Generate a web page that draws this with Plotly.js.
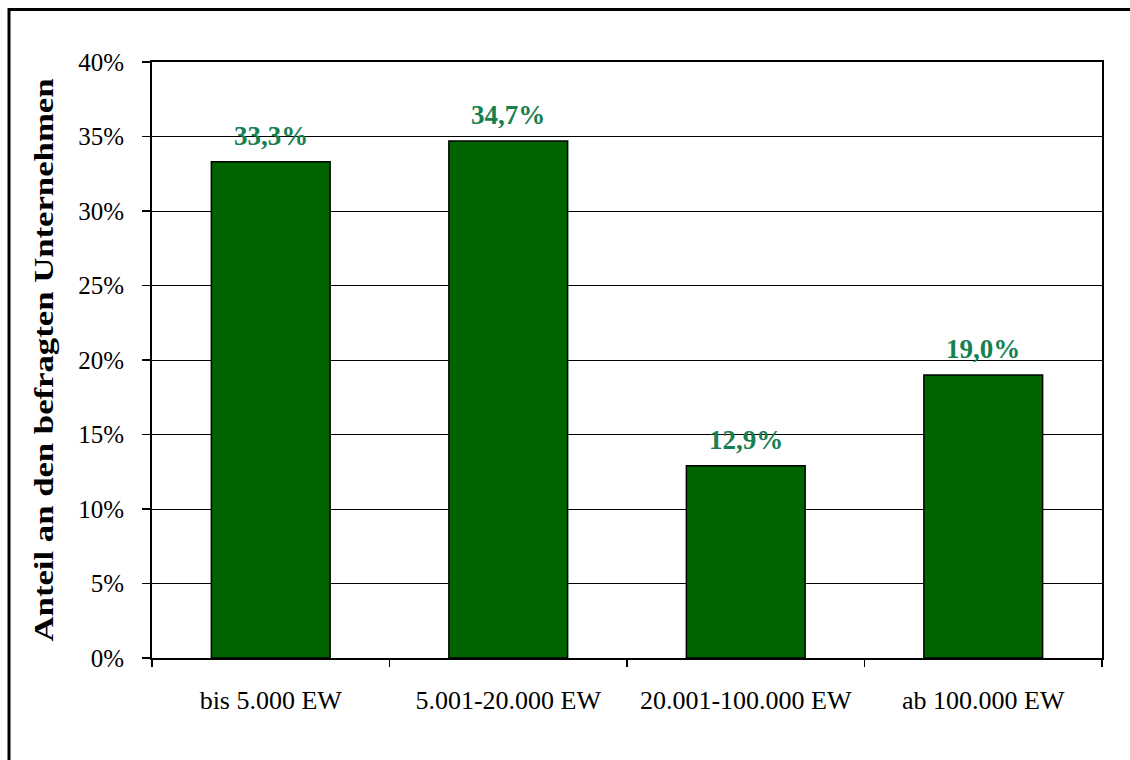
<!DOCTYPE html>
<html>
<head>
<meta charset="utf-8">
<script src="https://cdn.plot.ly/plotly-3.0.1.min.js"></script>
<style>
html,body{margin:0;padding:0;background:#fff;}
#chart{width:1130px;height:760px;}
</style>
</head>
<body>
<div id="chart"></div>
<script>
var categories = ["bis 5.000 EW", "5.001-20.000 EW", "20.001-100.000 EW", "ab 100.000 EW"];
var values = [33.3, 34.7, 12.9, 19.0];
var valueLabels = ["33,3%", "34,7%", "12,9%", "19,0%"];
var yTickVals = [0, 5, 10, 15, 20, 25, 30, 35, 40];
var yTickText = ["0%", "5%", "10%", "15%", "20%", "25%", "30%", "35%", "40%"];

var serif = "'Times New Roman', 'Liberation Serif', serif";

var trace = {
  type: "bar",
  x: categories,
  y: values,
  marker: {color: "#006400", line: {color: "#000", width: 1.5}},
  hoverinfo: "none"
};

var annotations = categories.map(function(c, i) {
  return {
    x: c, y: values[i], xref: "x", yref: "y",
    text: valueLabels[i],
    showarrow: false, yanchor: "bottom", yshift: 9,
    font: {family: serif, size: 27, weight: "bold", color: "#178050"}
  };
});

var layout = {
  width: 1130, height: 760,
  margin: {l: 152, r: 28, t: 62, b: 102},
  paper_bgcolor: "#fff", plot_bgcolor: "#fff",
  showlegend: false,
  bargap: 0.5,
  font: {family: serif, color: "#000"},
  xaxis: {
    type: "category",
    showline: true, linecolor: "#000", linewidth: 2, mirror: true,
    ticks: "outside", ticklen: 7, tickwidth: 1.5, tickcolor: "#000",
    tickson: "boundaries",
    ticklabelstandoff: 18,
    tickfont: {family: serif, size: 26, color: "#000"},
    showgrid: false, zeroline: false, fixedrange: true
  },
  yaxis: {
    range: [0, 40],
    tickvals: yTickVals, ticktext: yTickText, tickmode: "array",
    showline: true, linecolor: "#000", linewidth: 2, mirror: true,
    ticks: "outside", ticklen: 8, tickwidth: 1.5, tickcolor: "#000",
    ticklabelstandoff: 13,
    tickfont: {family: serif, size: 25, color: "#000"},
    showgrid: true, gridcolor: "#000", gridwidth: 1,
    zeroline: false, fixedrange: true,
    title: {text: "Anteil an den befragten Unternehmen", font: {family: serif, size: 27, weight: "bold", color: "#000"}, standoff: 17}
  },
  annotations: annotations,
  shapes: [{
    type: "rect", xref: "paper", yref: "paper",
    x0: (9 - 152) / 950, x1: 1.2,
    y0: -0.3, y1: 1 + (62 - 9.5) / 596,
    line: {color: "#000", width: 3}, fillcolor: "rgba(0,0,0,0)", layer: "below"
  }]
};

Plotly.newPlot("chart", [trace], layout, {displayModeBar: false, staticPlot: true}).then(function(gd) {
  var t = gd.querySelector(".ytitle");
  if (t) {
    t.setAttribute("textLength", "563");
    t.setAttribute("lengthAdjust", "spacingAndGlyphs");
  }
});
</script>
</body>
</html>
